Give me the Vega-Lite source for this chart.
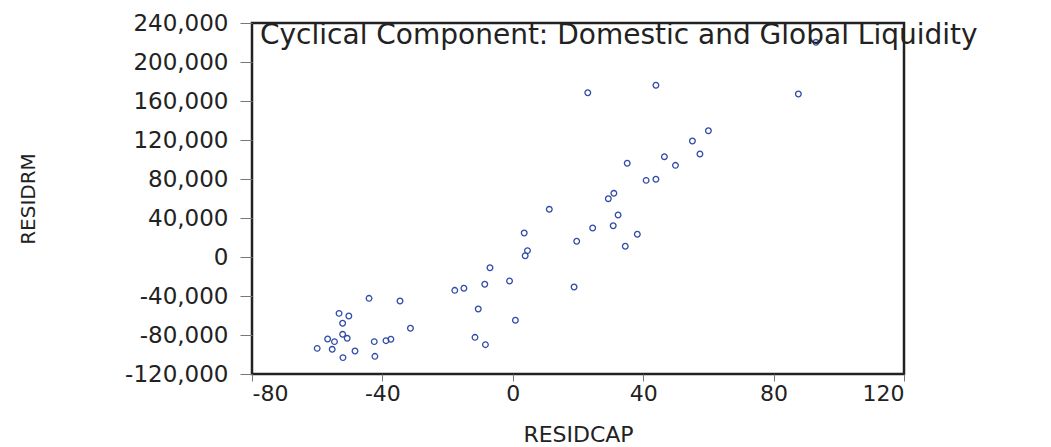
{
  "$schema": "https://vega.github.io/schema/vega-lite/v6.json",
  "width": 652,
  "height": 351,
  "autosize": "none",
  "padding": {"left": 252, "top": 23, "right": 147, "bottom": 73},
  "background": "white",
  "title": {
    "text": "Cyclical Component: Domestic and Global Liquidity",
    "anchor": "start",
    "frame": "group",
    "orient": "top",
    "offset": -60,
    "dx": 8,
    "font": "DejaVu Sans",
    "fontSize": 28,
    "fontWeight": "normal",
    "color": "#222222",
    "baseline": "alphabetic"
  },
  "data": {
    "values": [
      {"RESIDCAP": 31.0, "RESIDRM": 65300},
      {"RESIDCAP": 29.3, "RESIDRM": 59800},
      {"RESIDCAP": 11.2, "RESIDRM": 48900},
      {"RESIDCAP": 32.3, "RESIDRM": 43100},
      {"RESIDCAP": 3.5, "RESIDRM": 24600},
      {"RESIDCAP": 24.5, "RESIDRM": 29700},
      {"RESIDCAP": 30.8, "RESIDRM": 32100},
      {"RESIDCAP": 38.2, "RESIDRM": 23300},
      {"RESIDCAP": 19.6, "RESIDRM": 16100},
      {"RESIDCAP": 34.5, "RESIDRM": 11000},
      {"RESIDCAP": 4.5, "RESIDRM": 6500},
      {"RESIDCAP": 3.8, "RESIDRM": 1300},
      {"RESIDCAP": -7.0, "RESIDRM": -11000},
      {"RESIDCAP": -1.0, "RESIDRM": -24600},
      {"RESIDCAP": -8.6, "RESIDRM": -28000},
      {"RESIDCAP": -15.0, "RESIDRM": -32100},
      {"RESIDCAP": -17.8, "RESIDRM": -34200},
      {"RESIDCAP": 18.8, "RESIDRM": -30800},
      {"RESIDCAP": -44.1, "RESIDRM": -42400},
      {"RESIDCAP": -34.6, "RESIDRM": -45100},
      {"RESIDCAP": -10.6, "RESIDRM": -53300},
      {"RESIDCAP": -53.3, "RESIDRM": -57800},
      {"RESIDCAP": -50.3, "RESIDRM": -60500},
      {"RESIDCAP": -52.2, "RESIDRM": -68000},
      {"RESIDCAP": 0.8, "RESIDRM": -64900},
      {"RESIDCAP": -31.4, "RESIDRM": -73100},
      {"RESIDCAP": -52.2, "RESIDRM": -79300},
      {"RESIDCAP": -56.8, "RESIDRM": -84100},
      {"RESIDCAP": -54.7, "RESIDRM": -86800},
      {"RESIDCAP": -50.8, "RESIDRM": -83400},
      {"RESIDCAP": -42.5, "RESIDRM": -86800},
      {"RESIDCAP": -38.9, "RESIDRM": -85800},
      {"RESIDCAP": -37.4, "RESIDRM": -84400},
      {"RESIDCAP": -11.6, "RESIDRM": -82400},
      {"RESIDCAP": -8.4, "RESIDRM": -89900},
      {"RESIDCAP": -60.0, "RESIDRM": -93700},
      {"RESIDCAP": -55.4, "RESIDRM": -94700},
      {"RESIDCAP": -48.4, "RESIDRM": -96400},
      {"RESIDCAP": -52.1, "RESIDRM": -103200},
      {"RESIDCAP": -42.3, "RESIDRM": -101900},
      {"RESIDCAP": 23.0, "RESIDRM": 168500},
      {"RESIDCAP": 35.1, "RESIDRM": 96100},
      {"RESIDCAP": 93.0, "RESIDRM": 220200},
      {"RESIDCAP": 43.9, "RESIDRM": 176100},
      {"RESIDCAP": 87.6, "RESIDRM": 167200},
      {"RESIDCAP": 60.0, "RESIDRM": 129500},
      {"RESIDCAP": 55.1, "RESIDRM": 119000},
      {"RESIDCAP": 46.5, "RESIDRM": 102900},
      {"RESIDCAP": 57.4, "RESIDRM": 105600},
      {"RESIDCAP": 49.9, "RESIDRM": 94000},
      {"RESIDCAP": 40.9, "RESIDRM": 78600},
      {"RESIDCAP": 43.9, "RESIDRM": 79700}
    ]
  },
  "mark": {"type": "point", "shape": "circle", "filled": false, "size": 32, "strokeWidth": 1.3, "color": "#2f4aa8", "opacity": 1},
  "encoding": {
    "x": {
      "field": "RESIDCAP",
      "type": "quantitative",
      "scale": {"domain": [-80, 120], "nice": false, "zero": false},
      "axis": {
        "title": "RESIDCAP",
        "values": [-80, -40, 0, 40, 80, 120],
        "format": "d",
        "labelExpr": "replace(datum.label, '\u2212', '-')",
        "tickSize": 7,
        "labelPadding": 2,
        "titleFontSize": 22,
        "titleY": 67,
        "titleBaseline": "alphabetic"
      }
    },
    "y": {
      "field": "RESIDRM",
      "type": "quantitative",
      "scale": {"domain": [-120000, 240000], "nice": false, "zero": false},
      "axis": {
        "title": "RESIDRM",
        "values": [-120000, -80000, -40000, 0, 40000, 80000, 120000, 160000, 200000, 240000],
        "format": ",d",
        "labelExpr": "replace(datum.label, '\u2212', '-')",
        "tickSize": 12,
        "labelPadding": 12,
        "labelFontSize": 23,
        "titleFontSize": 20,
        "titleAngle": -90,
        "titleX": -218,
        "titleY": 175.5,
        "titleAlign": "center",
        "titleBaseline": "alphabetic"
      }
    }
  },
  "config": {
    "view": {"stroke": "#222222", "strokeWidth": 2.5},
    "axis": {
      "domain": false,
      "grid": false,
      "tickColor": "#777777",
      "tickWidth": 1,
      "labelFont": "DejaVu Sans",
      "labelFontSize": 22,
      "labelColor": "#222222",
      "titleFont": "DejaVu Sans",
      "titleFontWeight": "normal",
      "titleColor": "#222222"
    }
  }
}
